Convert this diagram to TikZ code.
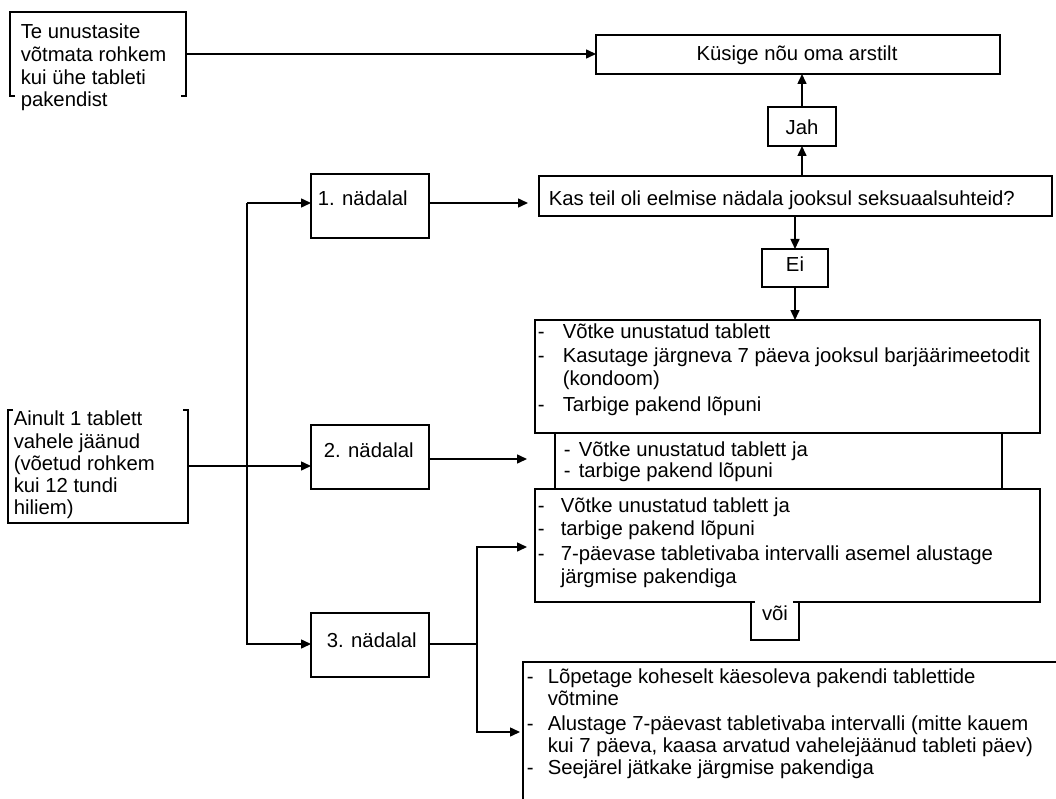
\documentclass[tikz,border=0pt]{standalone}
\usepackage{fontspec}
\setmainfont{Liberation Sans}
\usetikzlibrary{arrows.meta}
\newcommand\fsz{\fontsize{20.3}{23.3}\selectfont}
\begin{document}
\begin{tikzpicture}[x=1pt,y=-1pt,line width=1.5pt,
  arr/.style={-{Triangle[length=10pt,width=9pt]}},
  txt/.style={anchor=base west,inner sep=0pt,font=\fsz},
  ctxt/.style={anchor=base,inner sep=0pt,font=\fsz},
  frame/.style n args={2}{rectangle,inner sep=0pt,outer sep=0pt,minimum width=#1,minimum height=#2},
  boxd/.style n args={2}{frame={#1}{#2},draw}]
\useasboundingbox (0,0) rectangle (1056,799);
% boxes
\node[frame={176}{84}] (tl) at (98,54) {};
\node[boxd={404}{39}] (ask) at (798,54.5) {};
\node[boxd={68}{39}] (jah) at (802,126.5) {};
\node[boxd={513}{40}] (q) at (795.5,196) {};
\node[boxd={66}{38}] (ei) at (795,268) {};
\node[boxd={505}{113}] (b1) at (787.5,376.5) {};
\node[frame={447}{56}] (b2) at (778.5,461) {};
\node[frame={505}{113}] (b3) at (787.5,545.5) {};
\node[frame={48}{38}] (voi) at (775,621) {};
\node[frame={533}{137}] (b4) at (789.5,730.5) {};
\node[frame={180}{113}] (ainult) at (98,466.5) {};
\node[boxd={118}{64}] (w1) at (370,206) {};
\node[boxd={118}{64}] (w2) at (370,457) {};
\node[boxd={118}{64}] (w3) at (370,645) {};
% partial borders
\draw ([xshift=5pt]tl.south west) -- (tl.south west) -- (tl.north west) -- (tl.north east) -- (tl.south east) -- ([xshift=-5pt]tl.south east);
\draw ([xshift=5pt]ainult.north west) -- (ainult.north west) -- (ainult.south west) -- (ainult.south east) -- (ainult.north east) -- ([xshift=-5pt]ainult.north east);
\draw (b2.north west) -- (b2.south west);
\draw (b2.north east) -- (b2.south east);
\draw ([xshift=4pt]voi.north west) -- (b3.south west) -- (b3.north west) -- (b3.north east) -- (b3.south east) -- ([xshift=-6pt]voi.north east);
\draw (voi.north west) -- (voi.south west) -- (voi.south east) -- (voi.north east);
\draw (b4.south west) -- (b4.north west) -- (b4.north east);
% texts
\node[txt] (tl1) at (20,39) {Te unustasite};
\node[txt] (tl2) at (20,62) {võtmata rohkem};
\node[txt] (tl3) at (20,85) {kui ühe tableti};
\node[txt] (tl4) at (20,107) {pakendist};
\node[ctxt] (askt) at (797,61) {Küsige nõu oma arstilt};
\node[ctxt] (jaht) at (802,135) {Jah};
\node[txt] (qt) at (548,206) {Kas teil oli eelmise nädala jooksul seksuaalsuhteid?};
\node[ctxt] (eit) at (795,272) {Ei};
\node[txt] (b1d1) at (537,338) {-};
\node[txt] (b1t1) at (562,338) {Võtke unustatud tablett};
\node[txt] (b1d2) at (537,362) {-};
\node[txt] (b1t2) at (562,362) {Kasutage järgneva 7 päeva jooksul barjäärimeetodit};
\node[txt] (b1t3) at (562,385) {(kondoom)};
\node[txt] (b1d4) at (537,411) {-};
\node[txt] (b1t4) at (562,411) {Tarbige pakend lõpuni};
\node[txt] (b2d1) at (563,456) {-};
\node[txt] (b2t1) at (578,456) {Võtke unustatud tablett ja};
\node[txt] (b2d2) at (563,477) {-};
\node[txt] (b2t2) at (578,477) {tarbige pakend lõpuni};
\node[txt] (b3d1) at (537,512) {-};
\node[txt] (b3t1) at (560,512) {Võtke unustatud tablett ja};
\node[txt] (b3d2) at (537,535) {-};
\node[txt] (b3t2) at (560,535) {tarbige pakend lõpuni};
\node[txt] (b3d3) at (537,560) {-};
\node[txt] (b3t3) at (560,560) {7-päevase tabletivaba intervalli asemel alustage};
\node[txt] (b3t4) at (560,583) {järgmise pakendiga};
\node[ctxt] (voit) at (775,620) {või};
\node[txt] (b4d1) at (526,683) {-};
\node[txt] (b4t1) at (547,683) {Lõpetage koheselt käesoleva pakendi tablettide};
\node[txt] (b4t2) at (547,705) {võtmine};
\node[txt] (b4d3) at (526,730) {-};
\node[txt] (b4t3) at (547,730) {Alustage 7-päevast tabletivaba intervalli (mitte kauem};
\node[txt] (b4t4) at (547,752) {kui 7 päeva, kaasa arvatud vahelejäänud tableti päev)};
\node[txt] (b4d5) at (526,774) {-};
\node[txt] (b4t5) at (547,774) {Seejärel jätkake järgmise pakendiga};
\node[txt] (a1) at (13,425) {Ainult 1 tablett};
\node[txt] (a2) at (13,448) {vahele jäänud};
\node[txt] (a3) at (13,470) {(võetud rohkem};
\node[txt] (a4) at (13,492) {kui 12 tundi};
\node[txt] (a5) at (13,514) {hiliem)};
\node[txt] (w1t) at (317,206) {1. nädalal};
\node[txt] (w2t) at (323,457) {2. nädalal};
\node[txt] (w3t) at (326,647) {3. nädalal};
% connectors
\draw[arr] (tl.east) -- (tl.east -| ask.west);
\draw[arr] (jah.south |- q.north) -- (jah.south);
\draw[arr] (jah.north) -- (jah.north |- ask.south);
\draw[arr] (ei.north |- q.south) -- (ei.north);
\draw[arr] (ei.south) -- (ei.south |- b1.north);
\coordinate (j1) at (247,203);
\coordinate (j3) at (247,644);
\coordinate (ya) at (0,466);
\draw[arr] (j1) -- (j1 -| w1.west);
\draw[arr] (j1) -- (j3) -- (j3 -| w3.west);
\draw[arr] (ainult.east |- ya) -- (w2.west |- ya);
\coordinate (t1) at (528,203);
\draw[arr] (t1 -| w1.east) -- (t1);
\coordinate (t2) at (527,459);
\draw[arr] (t2 -| w2.east) -- (t2);
\coordinate (j4) at (477,644);
\coordinate (t3) at (527,547);
\coordinate (t4) at (520,732);
\draw (j4 -| w3.east) -- (j4);
\draw[arr] (j4) |- (t3);
\draw[arr] (j4) |- (t4);
\end{tikzpicture}
\end{document}
